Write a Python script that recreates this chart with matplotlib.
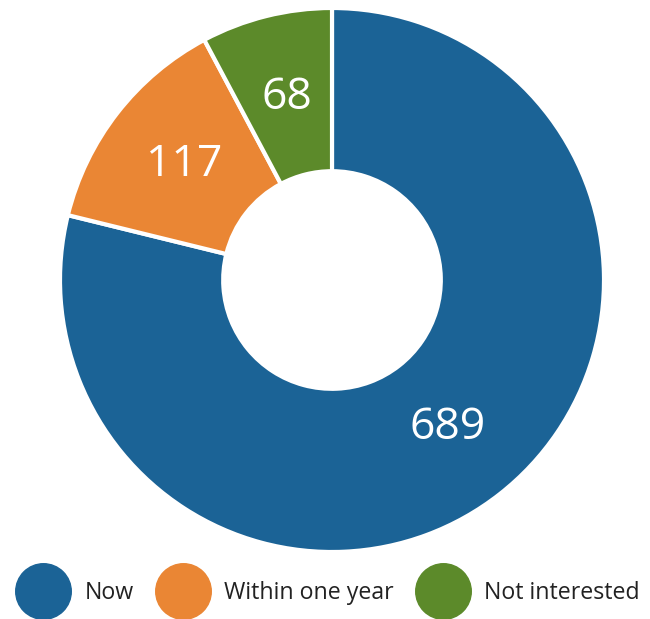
import matplotlib.pyplot as plt
from matplotlib.lines import Line2D

plt.rcParams['font.family'] = ['Open Sans', 'DejaVu Sans']

# data
labels = ['Now', 'Within one year', 'Not interested']
values = [689, 117, 68]
colors = ['#1b6396', '#ea8634', '#5c8a2a']

fig = plt.figure(figsize=(6.5, 6.19), dpi=100)
ax = fig.add_axes([60 / 650, 67 / 619, 544 / 650, 544 / 619])

wedges, texts = ax.pie(values, colors=colors, startangle=90, counterclock=False,
                       labels=[str(v) for v in values], labeldistance=0.69,
                       wedgeprops=dict(width=0.6, edgecolor='white', linewidth=3),
                       textprops=dict(color='white', fontsize=32))
for t in texts:
    t.set_ha('center')
    t.set_va('center')
ax.set_xlim(-1, 1)
ax.set_ylim(-1, 1)

# legend with round icons
handles = [Line2D([], [], marker='o', linestyle='none', markersize=40,
                  markerfacecolor=c, markeredgecolor=c) for c in colors]
fig.legend(handles, labels, loc='center', bbox_to_anchor=(0.504, 26 / 619), ncol=3,
           frameon=False, fontsize=16.7, handlelength=2.4, handletextpad=0.6,
           columnspacing=0.9, borderaxespad=0, borderpad=0, labelcolor='#222222')

fig.savefig('out.png', dpi=100)
